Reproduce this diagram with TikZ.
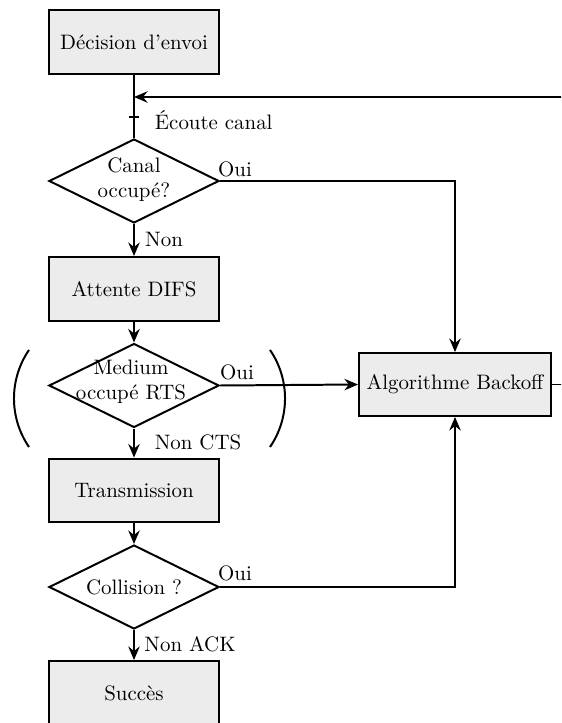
\documentclass[tikz,border=0pt]{standalone}
\usetikzlibrary{arrows.meta,shapes.geometric}
\begin{document}
\begin{tikzpicture}[x=0.4785pt,y=-0.4785pt,
  line width=0.95pt,
  boxnode/.style={draw,fill=gray!15,minimum width=81.35pt,minimum height=30.6pt,inner sep=0pt,font=\normalsize},
  decnode/.style={draw,diamond,minimum width=81.35pt,minimum height=40.2pt,inner sep=0pt},
  lbl/.style={inner sep=0pt,font=\normalsize},
  arr/.style={-{Stealth[length=6.5pt,width=5.5pt,inset=2.2pt]}}]
\clip (0,0) rectangle (561,723);
% nodes
\node[boxnode] (dec) at (134,42) {Décision d'envoi};
\node[decnode] (d1) at (134,181) {};
\node[lbl,align=center] (d1t) at (134,180) {Canal\\occupé?};
\node[boxnode] (att) at (134,289) {Attente DIFS};
\node[decnode] (d2) at (134,385.5) {};
\node[lbl,align=center] (d2t) at (131,381.5) {Medium\\occupé RTS};
\node[boxnode] (tra) at (134,490.5) {Transmission};
\node[decnode] (d3) at (134,587) {};
\node[lbl] (d3t) at (134,587) {Collision ?};
\node[boxnode] (suc) at (134,693) {Succès};
\node[boxnode,minimum width=91.9pt,minimum height=30.1pt] (bo) at (455,384.5) {Algorithme Backoff};
% labels
\node[lbl,anchor=west] (ecoute) at (154,120) {Écoute canal};
\node[lbl] (oui1) at (235,169) {Oui};
\node[lbl] (non1) at (164,239) {Non};
\node[lbl] (oui2) at (237,372) {Oui};
\node[lbl] (noncts) at (198,442) {Non CTS};
\node[lbl] (oui3) at (235,573) {Oui};
\node[lbl] (nonack) at (190,644) {Non ACK};
% parentheses
\draw (29,447) arc[start angle=145.6,end angle=214.4,radius=85.9];
\draw (270,447) arc[start angle=34.4,end angle=-34.4,radius=85.9];
% connectors
\coordinate (j) at (134,97);
\coordinate (tk) at (134,117);
\draw (dec.south) -- (d1.north);
\draw ([xshift=-2.5pt]tk) -- ([xshift=2.5pt]tk);
\draw[arr] (bo.east) -- ++(40,0) |- (j);
\draw[arr] (d1.east) -| (bo.north);
\draw[arr] (d1.south) -- (att.north);
\draw[arr] (att.south) -- (d2.north);
\draw[arr] (d2.east) -- (bo.west);
\draw[arr] (d2.south) -- (tra.north);
\draw[arr] (tra.south) -- (d3.north);
\draw[arr] (d3.east) -| (bo.south);
\draw[arr] (d3.south) -- (suc.north);
\end{tikzpicture}
\end{document}
